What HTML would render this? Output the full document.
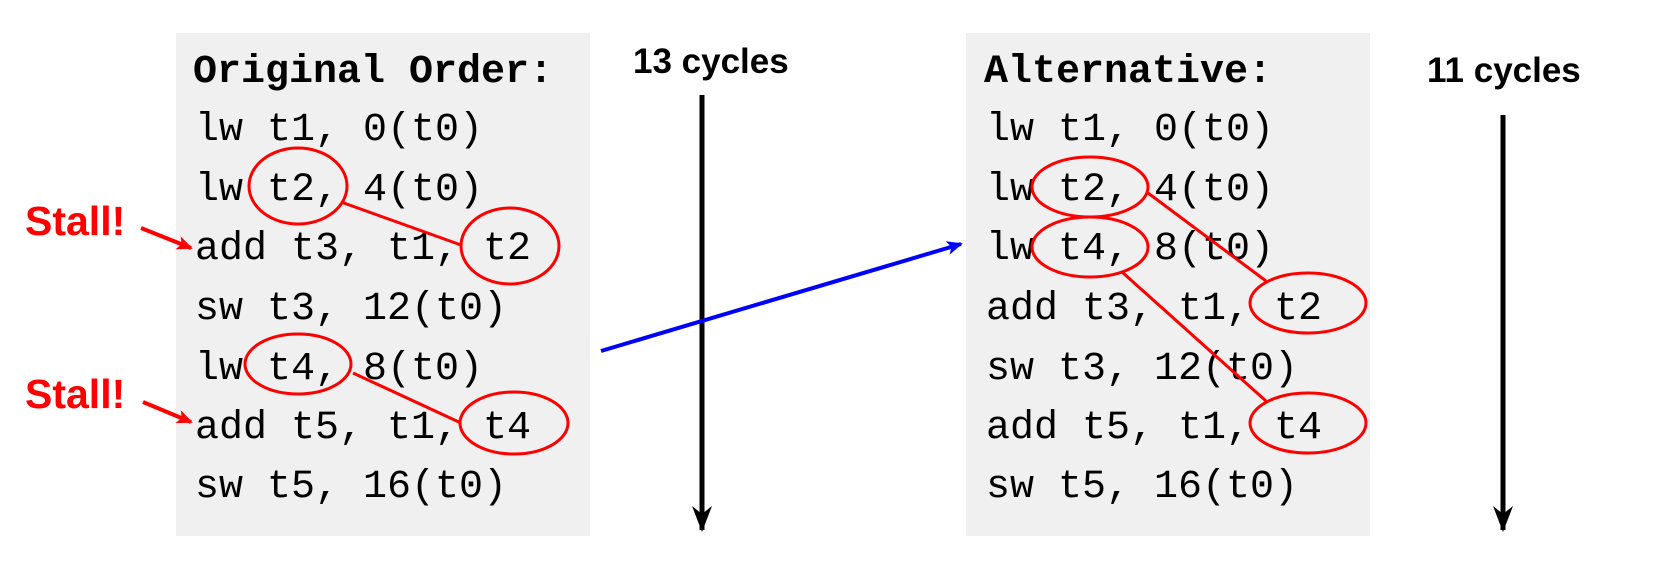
<!DOCTYPE html>
<html><head><meta charset="utf-8"><style>
html,body{margin:0;padding:0;background:#fff;}
svg{display:block;}
.code{font-family:"Liberation Mono",monospace;font-size:40px;fill:#000;}
.hdr{font-family:"Liberation Mono",monospace;font-size:40px;font-weight:bold;fill:#000;}
.cyc{font-family:"Liberation Sans",sans-serif;font-size:35px;font-weight:bold;fill:#000;}
.stall{font-family:"Liberation Sans",sans-serif;font-size:41px;font-weight:bold;fill:#f00;}
</style></head><body>
<svg width="1654" height="574" viewBox="0 0 1654 574">
<defs>
<marker id="ak" markerWidth="20" markerHeight="26" refX="10" refY="24" orient="0" markerUnits="userSpaceOnUse" viewBox="0 0 20 26"><path d="M0,0 L10,26 L20,0 L10,8 z" fill="#000"/></marker>
<marker id="ar" markerWidth="16" markerHeight="14" refX="14" refY="7" orient="auto" markerUnits="userSpaceOnUse" viewBox="0 0 16 14"><path d="M0,0 L16,7 L0,14 L4,7 z" fill="#f00"/></marker>
<marker id="ab" markerWidth="16" markerHeight="14" refX="14" refY="7" orient="auto" markerUnits="userSpaceOnUse" viewBox="0 0 16 14"><path d="M0,0 L16,7 L0,14 L4,7 z" fill="#00f"/></marker>
</defs>

<g>
<rect x="176" y="33" width="414" height="503" fill="#f0f0f0"/>
<text class="hdr" x="193" y="82">Original Order:</text>
<text class="code" x="195" y="140">lw t1, 0(t0)</text>
<text class="code" x="195" y="200">lw t2, 4(t0)</text>
<text class="code" x="195" y="259">add t3, t1, t2</text>
<text class="code" x="195" y="319">sw t3, 12(t0)</text>
<text class="code" x="195" y="379">lw t4, 8(t0)</text>
<text class="code" x="195" y="438">add t5, t1, t4</text>
<text class="code" x="195" y="497">sw t5, 16(t0)</text>
<g fill="none" stroke="#f00" stroke-width="3">
<ellipse cx="298" cy="186" rx="49" ry="38"/>
<ellipse cx="510" cy="246" rx="49" ry="38"/>
<ellipse cx="298" cy="364" rx="53" ry="30"/>
<ellipse cx="514" cy="423" rx="54" ry="31"/>
<line x1="341" y1="202" x2="461" y2="245"/>
<line x1="353" y1="373" x2="461" y2="423"/>
</g>
</g>

<text class="stall" x="25" y="235">Stall!</text>
<line x1="141" y1="228" x2="191" y2="248" stroke="#f00" stroke-width="4" marker-end="url(#ar)"/>
<text class="stall" x="25" y="408">Stall!</text>
<line x1="143" y1="402" x2="191" y2="422" stroke="#f00" stroke-width="4" marker-end="url(#ar)"/>

<text class="cyc" x="633" y="73">13 cycles</text>
<line x1="702" y1="95" x2="702" y2="530" stroke="#000" stroke-width="5" marker-end="url(#ak)"/>

<line x1="601" y1="351" x2="961" y2="244" stroke="#00f" stroke-width="4" marker-end="url(#ab)"/>

<g>
<rect x="966" y="33" width="404" height="503" fill="#f0f0f0"/>
<text class="hdr" x="984" y="82">Alternative:</text>
<text class="code" x="986" y="140">lw t1, 0(t0)</text>
<text class="code" x="986" y="200">lw t2, 4(t0)</text>
<text class="code" x="986" y="259">lw t4, 8(t0)</text>
<text class="code" x="986" y="319">add t3, t1, t2</text>
<text class="code" x="986" y="379">sw t3, 12(t0)</text>
<text class="code" x="986" y="438">add t5, t1, t4</text>
<text class="code" x="986" y="497">sw t5, 16(t0)</text>
<g fill="none" stroke="#f00" stroke-width="3">
<ellipse cx="1090" cy="187" rx="58" ry="30"/>
<ellipse cx="1090" cy="247" rx="58" ry="30"/>
<ellipse cx="1308" cy="303" rx="58" ry="30"/>
<ellipse cx="1308" cy="423" rx="58" ry="30"/>
<line x1="1148" y1="193" x2="1266" y2="281"/>
<line x1="1122" y1="272" x2="1266" y2="401"/>
</g>
</g>

<text class="cyc" x="1427" y="82">11 cycles</text>
<line x1="1503" y1="115" x2="1503" y2="530" stroke="#000" stroke-width="5" marker-end="url(#ak)"/>
</svg>
</body></html>
